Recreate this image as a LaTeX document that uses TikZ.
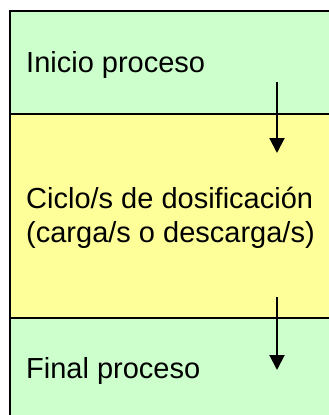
\documentclass[tikz,border=0pt]{standalone}
\usepackage{fontspec}
\setmainfont{Liberation Sans}
\usetikzlibrary{arrows.meta}
\definecolor{phasegreen}{HTML}{CCFFCC}
\definecolor{phaseyellow}{HTML}{FFFF99}
\begin{document}
\begin{tikzpicture}[x=1pt,y=-1pt,
  stage/.style={draw=none, minimum width=319pt, anchor=north west, inner sep=0pt, outer sep=0pt},
  border/.style={line width=2pt, black},
  lbl/.style={font=\fontsize{29}{34}\selectfont, anchor=base west, inner sep=0pt, align=left},
  flow/.style={line width=2pt, -{Triangle[length=15pt,width=15pt]}}]
\useasboundingbox (0,0) rectangle (329,415);
\fill[white] (0,0) rectangle (329,415);
\node[stage, fill=phasegreen, minimum height=103pt] (inicio) at (10,11) {};
\node[stage, fill=phaseyellow, minimum height=204pt] (ciclo) at (10,114) {};
\node[stage, fill=phasegreen, minimum height=97pt] (final) at (10,318) {};
\draw[border] (inicio.north east) -- (inicio.north west) -- (final.south west);
\draw[border] (inicio.south west) -- (inicio.south east);
\draw[border] (ciclo.south west) -- (ciclo.south east);
\node[lbl] (tinicio) at (26,72) {Inicio proceso};
\node[lbl] (tciclo1) at (26,208) {Ciclo/s de dosificación};
\node[lbl] (tciclo2) at (26,242) {(carga/s o descarga/s)};
\node[lbl] (tfinal) at (26,378) {Final proceso};
\coordinate (a1s) at (277,82);
\coordinate (a1e) at (277,153);
\coordinate (a2s) at (277,297);
\coordinate (a2e) at (277,370);
\draw[flow] (a1s) -- (a1e);
\draw[flow] (a2s) -- (a2e);
\end{tikzpicture}
\end{document}
